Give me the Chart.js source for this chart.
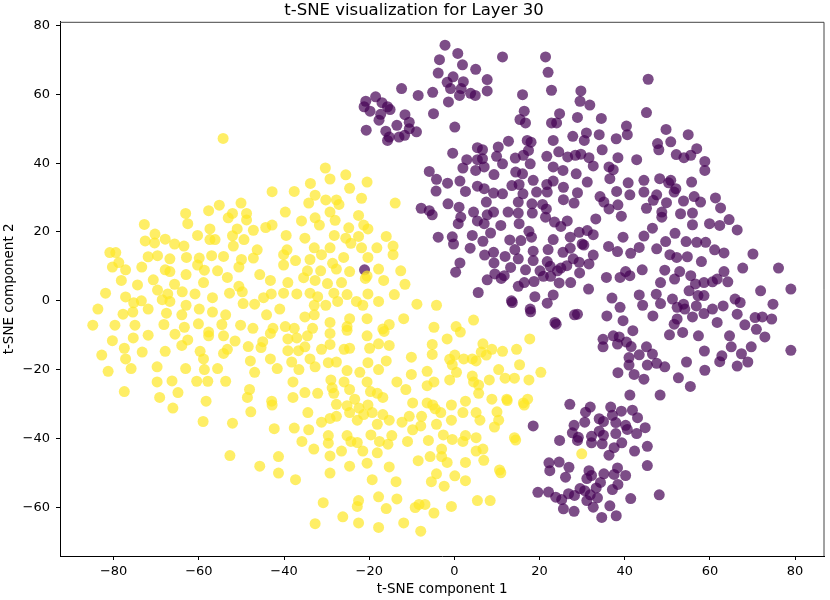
<!DOCTYPE html>
<html>
<head>
<meta charset="utf-8">
<title>t-SNE visualization for Layer 30</title>
<script src="https://cdn.jsdelivr.net/npm/chart.js@4.4.1/dist/chart.umd.min.js"></script>
<style>
  html, body { margin: 0; padding: 0; background: #fff; }
  #wrap { width: 830px; height: 600px; }
</style>
</head>
<body>
<div id="wrap"><canvas id="tsne" width="830" height="600"></canvas></div>
<script>
//Data Info: points, [component 1, component 2]
const chartTitle = "t-SNE visualization for Layer 30";
const xLabel = "t-SNE component 1";
const yLabel = "t-SNE component 2";
const xTicks = [-80, -60, -40, -20, 0, 20, 40, 60, 80];
const yTicks = [-60, -40, -20, 0, 20, 40, 60, 80];

//label 0 (dark purple)
const purplePoints = [
  [-2.2,74.3],[0.8,71.9],[11.3,70.9],[21.4,70.9],[-3.5,70.1],[1.9,68.6],[5,67.3],[-3.8,66.2],[-0.3,65.1],[7.7,64.3],
  [22,66.4],[-1.7,63.5],[2.1,63.7],[-0.9,61.7],[1.6,61.7],[7.7,61],[22.8,61.2],[3.8,60.3],[4.9,59.7],[1.2,59.7],
  [-1.4,57.8],[-5.1,60.6],[-8.5,59.7],[-12.4,61.7],[16,59.9],[29.7,61],[29.5,58],[31.8,56.9],[34.5,53],
  [-20.8,58],[-18.5,59.3],[-21.2,56.4],[-19.8,55.1],[-17,57.6],[-15.7,56.4],[-17.3,54.2],[-17.7,52.5],[-15.1,55.6],
  [-11.6,54.1],[-13.5,51],[-10.6,51.9],[-20.7,49.6],[-16.1,49.3],[-15.7,46.6],[-13,47.6],[-11.7,48.1],[-8.9,49.1],
  [0.1,50.5],[-4.9,54.4],[-15.3,47.6],[-10.6,50],
  [16.4,55.1],[15.4,52.7],[16.7,51.7],[22.8,51.7],[24,51.7],[24.7,54.4],[28.9,53.3],[31,48.8],[34,48.3],[27.8,47.8],
  [30.5,46.6],[23.2,46.6],[17.1,46.6],[18,46.1],[12.7,46.4],
  [5.4,44.5],[6.6,43.9],[10.3,44.7],[17.4,43.7],[-0.4,42.9],[2.9,41],[5.4,41],[6.6,41.3],[9.9,42],[14.3,41.5],
  [16.2,42.3],[21.7,42],[24.5,43.3],[26.6,41.8],[28.4,42.3],[29.7,42.6],[31.6,41.6],[32.6,39.2],[17.8,39.8],[11.3,39.8],
  [7,38.9],[5,37.9],[2,38.6],[23.2,38.9],[25.5,37.9],[28.6,36.9],[-5.9,37.6],[-4.2,35.3],[-1.6,34.2],[1.3,34.8],
  [9.3,36.7],[14.4,37.4],[16,36.9],[18.5,35],[21.7,33.8],[23.2,34.8],[31.2,34.5],[5.4,33.3],[7,32.6],[9.2,31.3],
  [11.3,31.1],[13.5,33.5],[15.2,33.8],[16.1,31.1],[19.3,31.6],[21.8,31.6],[25.6,33],[28.9,31.4],[-4.3,31.9],[2.6,31.8],
  [34.2,30.3],[7.5,28.7],[15,28.7],[18.2,28.2],[20.7,28],[25.6,29.4],[28.1,28.4],[35.1,28.7],[-7.8,26.9],[-5.9,26.2],
  [-5.2,25],[-1.5,28.2],[1.1,27.2],[4.5,25.8],[7.7,25],[9.2,25.8],[12.6,25.8],[15,25.5],[18.3,25.5],[21.6,26.7],
  [1.5,24.3],[0.9,22.4],[5.4,23.2],[7,22.4],[10.9,21.9],[15.2,22.4],[17.5,20.2],[21.4,24.3],[23.5,22.9],[25,21.6],
  [26.5,23.2],[29.3,19.9],[33.2,23.8],[31.2,20.4],[-3.8,18.5],[-0.2,16.5],[4.2,19],[6.7,17.3],[13,17.7],[15.6,17.5],
  [18.1,18.5],[23.2,17.8],[27.2,18.5],[30,16.5],[32.6,19.2],[-0.5,18.6],[8.5,19.7],
  [45.5,64.4],[45.1,54.7],[40.4,50.8],[40.6,48.3],[38,47.1],[49.7,49.8],[54.9,48.3],[47.7,45.7],[50.8,46.2],[48,43.9],
  [34.7,43.9],[38.4,41.6],[42.8,41],[52.1,42.5],[53.9,41.6],[55.5,42.3],[56.9,44.2],[58.8,40.5],[58.8,37.9],[36.3,38.9],
  [37.3,38.1],[36.5,35.5],[40.8,34.3],[44.5,35],[48.2,35.5],[50.3,34.3],[50.8,35],[52,32.6],[55.7,34.5],[38.1,31.8],
  [41.2,30.8],[44.5,31.6],[47.5,30.8],[46.7,29.2],[49.8,28.5],[51.6,31.6],[53.8,29],[56.3,30.3],[57.8,28.7],[61.3,29.9],
  [62.5,27],[36.3,26.7],[38.4,27.9],[39.2,24.6],[45.1,26.9],[48.7,25.8],[48.7,24.3],[53.1,25.3],[55.9,25.5],[55.9,22.1],
  [59.9,22.4],[62.3,21.9],[64.5,23.6],[66.4,20.6],[46.5,21.1],[44.5,18.8],[39.6,18.5],[30.4,16.2],[36.2,15.8],[38.3,14.3],
  [41.4,13.8],[43.4,15.5],[47.5,15.1],[49.6,17.2],[51.8,19.6],[54.4,17.2],[56.9,17],[59,17],[61.1,14.8],[63.3,13.9],
  [50.6,13.4],[52.2,12.6],[54.7,12.8],[58,11.4],[70.1,13.6],[76.1,9.5],[67.7,9.5],[63.3,8.5],[64.2,5.5],[60.6,5.5],
  [61.7,6.3],[58.6,5.3],[56.6,4.9],[55.5,7.3],[49.4,8.9],[52.9,8.5],[48.4,5.3],[51.7,6.3],[44.1,9],[40.2,8.5],
  [41.2,7.3],[38.9,6.8],[35.7,6.8],[29.4,8.1],[31.6,10.7],[29.3,11.2],[31.5,3.4],[37,0.8],[38.9,-1.9],[43.4,1.7],
  [44.2,-1.3],[47.4,1.9],[48.4,-0.8],[51.2,0.5],[52.3,-1.9],[54.1,-2.4],[53.8,-1],[55.1,2.9],[57.2,1.5],[58.6,1.5],
  [55.9,-4.7],[56.8,-1.5],[58.6,-3.7],[60.6,-2.4],[63.1,-1.5],[65.9,0.5],[67.1,-0.5],[66.4,-3.9],[68.2,-7],[70.6,-4.9],
  [70.9,-8.3],[72.3,-4.7],[74.5,-5.3],[74.8,-1],[71.9,2.9],[79,3.4],[79,-14.4],[72.9,-10.5],[69.7,-13.4],[67.4,-15.4],
  [66.4,-19],[68.9,-17.8],[65,-13.4],[64.6,-10.2],[61.7,-6.3],[58.7,-14.6],[62.8,-16],[62.3,-17.7],[58.8,-20.2],[54.5,-17.8],
  [52.6,-22.4],[57.3,-10.2],[53.6,-9.2],[50.5,-9.9],[51.6,-6.8],[52.3,-5.3],[46.6,-4.4],[49.4,-19.2],[47.5,-18.2],[45.3,-18.7],
  [46.5,-15.5],[45.1,-13.4],[43.4,-15.7],[41.5,-13.3],[40.4,-12],[38.7,-10.5],[41.9,-8.7],[39.6,-5.8],[37.3,-10.2],[38.3,-12.6],
  [34.9,-11.2],[34.9,-13.4],[35.8,-4.4],[41,-16.5],[41,-18.7],[42.2,-21.4],[44.5,-22.8],[38.4,-20.9],[28.9,-3.9],[55.4,-24.9],
  [3.7,15.3],[14.2,14.9],[18.5,14.4],[22,14.9],[25.5,14.1],[27.2,15.3],[27.9,12.2],[32.6,13.3],[7.1,13.3],[9.2,14.1],
  [9.3,11],[11.9,12.9],[15,12.2],[18.5,11.7],[21.8,11.4],[22.5,10],[25,9.5],[26.4,10.2],[1.3,11],[0.3,8.3],
  [13.2,9.7],[16.7,9],[20.1,8.7],[24.2,8.7],[9.5,7.8],[11.7,7.3],[7.7,6.1],[11,6.5],[16.4,5.3],[18.7,5.6],
  [20.9,7.1],[22.6,7.1],[24.6,5.2],[27.3,5.3],[15,4.2],[5.6,2.4],[13.6,-0.5],[18.9,1.2],[21.8,-0.7],[23.2,1.7],
  [17.9,-3.2],[28.2,-4.1],[23.9,-6.8],[23.6,-6.3],[17.8,-2.4],[13.4,0],[-21.1,9],
  [41.2,-27.4],[48.3,-27.4],[27.1,-30.1],[31.9,-30.9],[30.8,-32.4],[36.7,-30.9],[39.2,-32.1],[41.8,-31.8],[43,-34],[34,-34.3],
  [35,-35.1],[37.1,-33.3],[37.9,-35.4],[30.6,-35.3],[28.1,-36.2],[40.2,-36.2],[40.6,-37.4],[44.8,-36.9],[27.7,-38.4],[29.1,-39.7],
  [32.2,-39.4],[34,-37.9],[35,-39.1],[37.9,-38.6],[42.8,-38.6],[24.7,-40.6],[28.9,-40.6],[32.2,-41.3],[34.7,-41.6],[39.3,-41.3],
  [37.5,-42.7],[42.3,-43.7],[45.3,-42.3],[36.3,-44.9],[45.3,-47.9],[18.5,-36.4],
  [22.2,-47.1],[24.6,-46.9],[22.4,-49.4],[26.9,-48.4],[26.1,-51.3],[31.6,-49.4],[32.2,-50.8],[31.1,-51.7],[35.1,-50.3],[38.3,-48.6],
  [37.5,-50.5],[40.2,-50.8],[38.4,-53.4],[37.1,-54.9],[19.6,-55.7],[22.1,-55.6],[23.8,-57.1],[25.2,-57.8],[26.8,-56.1],[28.2,-56.6],
  [29.5,-54.6],[30.6,-55.2],[31.9,-56.4],[33.6,-57.3],[31.1,-58.1],[32.6,-60],[25.6,-60.5],[28.1,-61.2],[34.6,-63],[38,-62.5],
  [36.5,-59.6],[41.4,-57.5],[48.1,-56.4],[33.3,-54.4],[34.3,-52.8]
];

//label 1 (yellow)
const yellowPoints = [
  [-54.3,47.2],[-30.3,38.6],[-29.2,35.4],[-25.5,36.6],[-20.5,34.5],[-33.8,34.1],[-24.6,32.7],[-42.8,31.7],[-37.6,31.8],[-32.7,30.7],
  [-30.2,29.3],[-27.7,29.3],[-21.8,29.8],[-13.9,28.4],[-50.1,28.4],[-55.2,27.8],[-34.2,28.4],[-29.2,25.8],[-27.1,28],[-57.7,26.2],
  [-63.1,25.4],[-52.1,25.4],[-48.8,25.4],[-39.7,25.8],[-53.1,24.1],[-32.7,24.1],[-22.5,24.8],[-62.6,22.4],[-72.8,22.2],[-48.8,23.5],
  [-35.9,23.2],[-28,23.4],[-21.3,22],[-57.4,20.9],[-51,20.9],[-42.8,22],[-44.3,21.3],[-31.7,22],[-24.8,21.2],[-20.3,20.9],
  [-70.3,19.4],[-60.3,19],[-52.1,18.9],[-47.2,20.5],[-39.5,19],[-35.1,18.2],[-28.2,19],[-25.5,18.2],[-22.5,18.7],[-16,18.7],
  [-57.4,17.8],[-56.2,17.8],[-49.4,17.8],[-72.6,17.4],[-70.4,16.8],[-67.9,17.9],[-65.7,16.5],[-63.5,15.9],[-51.9,15.9],[-46.3,14.8],
  [-39.3,14.8],[-32.9,15.4],[-29.2,15.4],[-24.3,16.7],[-21.8,15.4],[-18.2,15.4],[-14.4,15.9],[-80.9,14],[-79.5,14],[-78.8,11.1],
  [-80.3,9.8],[-77.2,9],[-71.9,12.8],[-69.7,13.1],[-66.8,12.2],[-62.9,12.6],[-59.9,12.4],[-57,13.1],[-54.2,12.9],[-50,12],
  [-47.2,12.4],[-40.1,13.4],[-37.3,11.7],[-33.9,12],[-31.2,13.4],[-28.6,10.9],[-26,12.6],[-20.3,12.6],[-14.4,13.4],[-73.4,9.8],
  [-67.9,9],[-66.8,8.5],[-60.3,10.4],[-58.7,8.9],[-55.6,8.7],[-50.6,9.8],[-45.7,7.6],[-40.1,10.4],[-34.5,8.7],[-31.4,8.7],
  [-27.7,9.2],[-24.6,8.5],[-20.5,7.2],[-17.8,9.2],[-12.6,8.7],[-78.2,5.9],[-70.7,6.1],[-65.7,4.8],[-63,7.6],[-58.9,5.3],
  [-53.3,6.8],[-50.6,4.2],[-43.2,5.9],[-39.1,5.3],[-35.4,6.7],[-32.7,5.9],[-29.8,5],[-26.5,5.3],[-20.9,6.5],[-16.6,5.9],
  [-11.6,4.8],[-81.9,2.2],[-74.4,4.6],[-69.7,3.1],[-67.3,2],[-63.9,2.6],[-60.9,2],[-56.8,0.9],[-52.8,2.2],[-49.8,2.6],
  [-43,2],[-40.1,2.2],[-37,2],[-33.9,2.2],[-32.1,1.2],[-28.3,2.2],[-25.2,1.8],[-20.3,2],[-14.1,1.8],[-77.2,1.1],
  [-83.7,-2.4],[-77.8,-3.9],[-75.3,-0.6],[-73.5,0],[-75.5,-3.3],[-71.9,-2.4],[-68.6,0.3],[-66.8,-0.2],[-63,-1.3],[-59.9,-2.4],
  [-56.8,-3.3],[-53.7,-4.1],[-49.6,-0.8],[-46.9,-1],[-44.8,0.9],[-41,-2.4],[-32.9,-1.3],[-30.2,-1.3],[-27.4,-0.2],[-23,-0.2],
  [-21.5,-1.3],[-17.8,-0.2],[-8.8,-1],[-4.2,-1.3],[-84.9,-7.1],[-79.7,-7.1],[-75,-7.1],[-68.2,-6.9],[-67.6,-3.6],[-64,-4.1],
  [-63.4,-7.7],[-60.1,-6.7],[-57.7,-9.1],[-54.6,-6.9],[-50.2,-7.1],[-47.3,-8],[-44.1,-4.1],[-42.6,-8],[-39.7,-7.5],[-37.6,-8],
  [-35.1,-4.7],[-32.9,-4.1],[-33.3,-8],[-29.2,-6.3],[-25.2,-7.5],[-24.6,-5.2],[-20.5,-5.2],[-16.8,-8.2],[-15.3,-6.9],[-11.9,-5.2],
  [-4.8,-7.7],[0.4,-7.5],[4.5,-5.6],[-80.3,-11.6],[-75.4,-10.8],[-71.9,-10],[-65.6,-9.7],[-62.6,-11.4],[-57.7,-10.2],[-54.2,-10.2],
  [-51.5,-11.7],[-43.2,-9.5],[-39.1,-11.1],[-37,-10.8],[-34.5,-10.2],[-29.2,-9.5],[-25.2,-8.6],[-20.5,-10.2],[-16.5,-8.9],[-1.7,-11.1],
  [1.4,-9.1],[6.7,-12.5],[17.7,-11.1],[-82.8,-15.8],[-77.5,-13.8],[-77.2,-16.9],[-73.3,-14.9],[-67.9,-14.7],[-64,-13],[-59.7,-14.7],
  [-58.9,-16.9],[-54.2,-15.3],[-53.3,-14.1],[-48.4,-13.3],[-45.4,-13.6],[-45,-11.9],[-39.1,-14.5],[-36.6,-14.5],[-35.1,-13.4],[-31.2,-14.1],
  [-29.2,-12.7],[-25.9,-14.1],[-24.6,-13.8],[-19.9,-13.8],[-17.8,-12.5],[-15.3,-13],[-5.2,-12.7],[-5.2,-15.6],[0.1,-15.8],[6.3,-14.9],
  [8.8,-14.1],[11.3,-14.7],[14.6,-14.1],[-81.3,-20.5],[-75.9,-19.7],[-69.8,-19.2],[-63.1,-19.7],[-58.7,-20],[-55.6,-19.7],[-47.9,-17.5],
  [-46.9,-20.8],[-43.2,-16.9],[-41.6,-19.7],[-38.2,-17.8],[-36.5,-20],[-33.9,-16.9],[-32.7,-19.2],[-29.6,-18],[-27.7,-17.8],[-25.2,-20.3],
  [-22.2,-20.8],[-20.3,-18],[-17.8,-20],[-16,-17.5],[-10.1,-16.4],[-6.4,-20.5],[-1.1,-17],[-0.5,-18.6],[2.2,-16.9],[4.2,-16.9],
  [5.1,-17.5],[7.5,-15.8],[10.4,-20],[15.3,-18.6],[20.3,-20.8],[-77.5,-26.4],[-69.8,-23.6],[-69.2,-28.1],[-66.3,-23.3],[-64.9,-26.7],
  [-66.1,-31.2],[-60.5,-23.4],[-58.3,-29.2],[-57.9,-23.4],[-53.7,-23.4],[-48.1,-25.8],[-48.6,-28.1],[-47.8,-32.3],[-42.9,-29.2],[-42.8,-30.3],
  [-42.3,-37.2],[-37.9,-23.6],[-37.9,-28.1],[-35.1,-26.7],[-34.4,-32.5],[-32.1,-26.9],[-29,-23],[-28.7,-25.3],[-28.3,-26.9],[-27.7,-30.1],
  [-25.9,-23.6],[-24.6,-25.8],[-23.4,-28.6],[-20.5,-23.6],[-19.7,-26.4],[-18.1,-26.9],[-16.8,-28.1],[-13.5,-23.6],[-11.4,-25.8],[-10.1,-21.4],
  [-6.4,-24.7],[-4.8,-23.6],[-1.1,-23],[0.5,-20.8],[4.2,-21.9],[4.5,-23.6],[5.7,-24.5],[8.2,-23],[11.9,-22.5],[14.1,-22.5],
  [17.5,-23],[5.7,-26.9],[8.8,-28.6],[12.3,-28.6],[16.2,-29.7],[17.2,-28.6],[2.6,-29.2],[-0.7,-30.3],[-5.1,-30.3],[-6.4,-29.7],
  [-9.8,-29.7],[-20.3,-30.3],[-22.4,-31.2],[-24.6,-32.5],[-25.2,-30.5],[-21.3,-33.1],[-19.3,-32.5],[-16.8,-33.1],[-15.3,-34.7],[-10.6,-33.6],
  [-7.7,-33.6],[-4.5,-31.4],[-3.2,-32.5],[2,-32.5],[5.1,-32.5],[10,-32.3],[10.4,-34.7],[6,-34.7],[-0.7,-34.7],[-4.2,-35.9],
  [-7.9,-36.4],[-12.3,-35.3],[-18.1,-35.9],[-22.8,-34.7],[-27.7,-33.6],[-29.2,-34.2],[-31.2,-35.3],[-34.2,-37.5],[-37.6,-37],[-52.1,-35.6],
  [-59,-35.1],[-35.8,-40.9],[-33,-43.1],[-29.6,-41.4],[-29.2,-45.1],[-29.6,-39.2],[-25.2,-39.2],[-24.3,-40.9],[-22.8,-41.2],[-19.6,-39],
  [-17.6,-40.9],[-14.7,-39.2],[-18.1,-44.2],[-15.6,-41.7],[-11,-40.9],[-9.8,-37.5],[-6.1,-40.6],[-2.6,-39],[-0.5,-40.3],[2,-40.9],
  [2.6,-39.2],[5.1,-39.8],[9.4,-36.7],[14.1,-39.8],[6.7,-43.1],[5.1,-43.7],[-3,-43.1],[-5.7,-45.3],[-8.5,-46.5],[-3,-45.3],
  [-1.7,-47],[2.6,-47],[6.9,-46.4],[10.6,-49.2],[0.1,-50.9],[-4.2,-50.3],[-5.4,-52.6],[-2.4,-53.9],[2.6,-52.3],[-13.7,-52.6],
  [-15.3,-48.3],[-20.5,-47.2],[-24.6,-48.1],[-21.5,-43.7],[-26.5,-43.7],[-19.3,-52],[-29.2,-50.1],[-41.3,-50.1],[-37.3,-52],[-41.3,-45.3],
  [-45.7,-48.1],[-52.7,-45],[-30.8,-58.7],[-22.5,-58.1],[-22.8,-59.8],[-17.8,-57],[-13.5,-57.6],[-16,-60.4],[-9.2,-60.1],[-8.3,-59.2],
  [-6.9,-59.2],[-4.8,-61.7],[-0.7,-59.8],[5.4,-58.1],[8.4,-58.1],[-32.7,-64.8],[-26.2,-62.8],[-22.5,-64.6],[-17.8,-65.9],[-11.9,-64.6],
  [-7.9,-67],[29.9,-44.5],[12.4,-29],[16.4,-30.3],[14.4,-40.5],[10.9,-50]
];

function toXY(pairs) {
  return pairs.map(function (p) { return { x: p[0], y: p[1] }; });
}

//matplotlib style minus sign
function fmtTick(v) {
  return String(v).replace('-', '\u2212');
}

//Top / right spines
const chartAreaBorder = {
  id: 'chartAreaBorder',
  afterDraw(chart, args, options) {
    const {ctx, chartArea: {left, top, right, bottom}} = chart;
    ctx.save();
    ctx.strokeStyle = options.borderColor;
    ctx.lineWidth = options.borderWidth;
    ctx.beginPath();
    ctx.moveTo(left, top + 0.5);
    ctx.lineTo(right - 0.5, top + 0.5);
    ctx.lineTo(right - 0.5, bottom);
    ctx.stroke();
    ctx.restore();
  }
};

Chart.defaults.font.family = "'DejaVu Sans', sans-serif";
Chart.defaults.color = '#000';

var tsneChart = new Chart('tsne', {
  type: 'scatter',
  data: {
    datasets: [{
      label: 'label 1',
      data: toXY(yellowPoints),
      backgroundColor: 'rgba(253, 231, 37, 0.7)',
      borderWidth: 0,
      pointRadius: 5.5,
      pointHoverRadius: 5.5
    }, {
      label: 'label 0',
      data: toXY(purplePoints),
      backgroundColor: 'rgba(68, 1, 84, 0.7)',
      borderWidth: 0,
      pointRadius: 5.5,
      pointHoverRadius: 5.5
    }]
  },
  options: {
    responsive: false,
    animation: false,
    devicePixelRatio: 1,
    layout: { padding: { left: 0, right: 2, top: 0, bottom: 0 } },
    plugins: {
      legend: { display: false },
      tooltip: { enabled: false },
      title: {
        display: true,
        text: chartTitle,
        color: '#000',
        font: { size: 16.5, weight: 'normal' },
        padding: { top: 1, bottom: 1 }
      },
      chartAreaBorder: {
        borderColor: '#444',
        borderWidth: 1
      }
    },
    scales: {
      x: {
        type: 'linear',
        min: -92.6,
        max: 86.9,
        afterFit(scale) { scale.height = 44; },
        afterBuildTicks(scale) { scale.ticks = xTicks.map(v => ({ value: v })); },
        ticks: { font: { size: 13 }, color: '#000', padding: 4, maxRotation: 0, callback: fmtTick },
        grid: { drawOnChartArea: false, drawTicks: true, tickLength: 4, color: '#000' },
        border: { display: true, color: '#000', width: 1 },
        title: { display: true, text: xLabel, color: '#000', font: { size: 13.5 }, padding: { top: 0, bottom: 2 } }
      },
      y: {
        type: 'linear',
        min: -74.2,
        max: 81.1,
        afterFit(scale) { scale.width = 60; },
        afterBuildTicks(scale) { scale.ticks = yTicks.map(v => ({ value: v })); },
        ticks: { font: { size: 13 }, color: '#000', padding: 6, callback: fmtTick },
        grid: { drawOnChartArea: false, drawTicks: true, tickLength: 4, color: '#000' },
        border: { display: true, color: '#000', width: 1 },
        title: { display: true, text: yLabel, color: '#000', font: { size: 13.5 }, padding: { top: 1, bottom: 0 } }
      }
    }
  },
  plugins: [chartAreaBorder]
});
</script>
</body>
</html>
